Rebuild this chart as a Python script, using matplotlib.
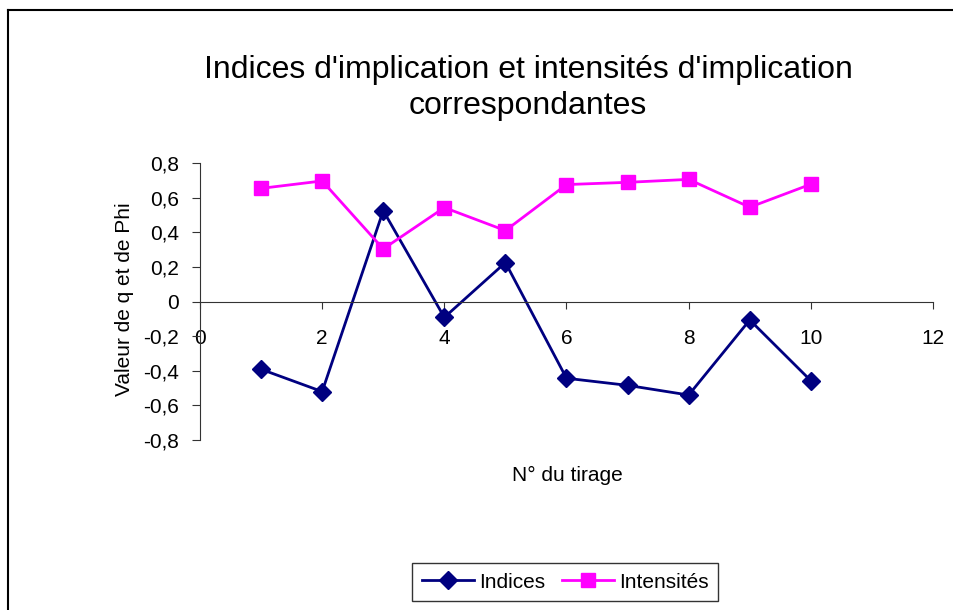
import matplotlib
matplotlib.use("Agg")
import matplotlib.pyplot as plt
from matplotlib.lines import Line2D
from matplotlib.ticker import FuncFormatter

plt.rcParams['font.family'] = ['Liberation Sans', 'DejaVu Sans']

tirages = [1, 2, 3, 4, 5, 6, 7, 8, 9, 10]
indices = [-0.391, -0.520, 0.526, -0.091, 0.226, -0.443, -0.484, -0.540, -0.106, -0.457]
intensites = [0.655, 0.698, 0.305, 0.544, 0.411, 0.677, 0.690, 0.707, 0.546, 0.679]

fig = plt.figure(figsize=(9.54, 6.10), dpi=100)
ax = fig.add_axes([200/954, 1 - 440/610, 733/954, (440 - 163.3)/610])

ax.plot(tirages, indices, color='#000080', lw=2, marker='D', ms=9, label='Indices')
ax.plot(tirages, intensites, color='#FF00FF', lw=2, marker='s', ms=10, label='Intensités')

ax.set_xlim(0, 12)
ax.set_ylim(-0.8, 0.8)
ax.set_xticks(range(0, 13, 2))
ax.set_yticks([-0.8, -0.6, -0.4, -0.2, 0, 0.2, 0.4, 0.6, 0.8])
fmt = FuncFormatter(lambda v, p: ('%g' % round(v, 1)).replace('.', ','))
ax.xaxis.set_major_formatter(fmt)
ax.yaxis.set_major_formatter(fmt)

ax.spines['top'].set_visible(False)
ax.spines['right'].set_visible(False)
ax.spines['bottom'].set_position(('data', 0))
ax.spines['bottom'].set_color('#333333')
ax.spines['left'].set_color('#333333')
ax.tick_params(axis='x', direction='out', length=5, pad=15, labelsize=15, colors='#333333', labelcolor='black')
ax.tick_params(axis='y', direction='out', length=6, pad=9, labelsize=15, colors='#333333', labelcolor='black')

fig.text(567/954, 1 - 475/610, 'N° du tirage', ha='center', va='center', fontsize=15)
fig.text(125/954, 1 - 299/610, 'Valeur de q et de Phi', ha='center', va='center',
         rotation=90, fontsize=15)
fig.text(528/954, 1 - 88/610, "Indices d'implication et intensités d'implication\ncorrespondantes",
         ha='center', va='center', fontsize=23, linespacing=1.25)

# chart border (left and top visible)
fig.add_artist(Line2D([8/954, 8/954], [0, 1 - 10/610], color='black', lw=1.5))
fig.add_artist(Line2D([8/954, 1], [1 - 10/610, 1 - 10/610], color='black', lw=1.5))

leg = fig.legend(loc='center', bbox_to_anchor=(565/954, 1 - 582/610), ncol=2,
                 fontsize=15, frameon=True, fancybox=False, edgecolor='black',
                 handlelength=2.5, columnspacing=0.8, handletextpad=0.25, borderpad=0.45,
                 borderaxespad=0.2)
leg.get_frame().set_linewidth(1)

fig.savefig('out.png', dpi=100)
